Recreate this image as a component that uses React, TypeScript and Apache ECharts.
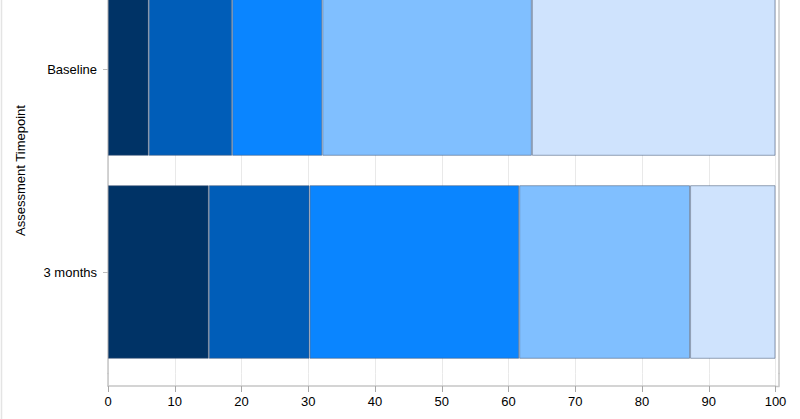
import React, { useEffect, useRef } from "react";
import * as echarts from "echarts";

// Categories (bottom to top on the y axis)
const categories = ["3 months", "Baseline"];
// Percent of subjects per response level, for [3 months, Baseline]
const level1 = [15.1, 6.1];
const level2 = [15.1, 12.5];
const level3 = [31.4, 13.5];
const level4 = [25.6, 31.4];
const level5 = [12.8, 36.5];
const levelNames = ["Level 1", "Level 2", "Level 3", "Level 4", "Level 5"];
const levelColors = ["#003366", "#005DB8", "#0A85FF", "#80BFFF", "#CFE3FD"];
const xTicks = { min: 0, max: 100, interval: 10 };
const axisTitle = "Assessment Timepoint";

const FONT = "'Liberation Sans', Arial, Helvetica, sans-serif";
const AXIS_COLOR = "#c6c6c6";
const GRID_COLOR = "#e9e9e9";
// The chart's top is cut off in the picture: the canvas extends above the window.
const OFF = 40;

export default function App() {
  const ref = useRef<HTMLDivElement>(null);

  useEffect(() => {
    if (!ref.current) return;
    const chart = echarts.init(ref.current, undefined, { renderer: "svg" });
    const levels = [level1, level2, level3, level4, level5];

    const option: any = {
      animation: false,
      backgroundColor: "#ffffff",
      textStyle: { fontFamily: FONT },
      grid: [
        { left: 108, right: 24.5, top: OFF - 32.5, bottom: 45.5, containLabel: false },
        { left: 108, right: 24.5, top: OFF + 373.5, bottom: 33, containLabel: false },
      ],
      xAxis: [
        {
          type: "value",
          gridIndex: 0,
          min: xTicks.min,
          max: xTicks.max,
          interval: xTicks.interval,
          axisLine: { show: false },
          axisTick: { show: false },
          axisLabel: { show: false },
          splitLine: { show: true, lineStyle: { color: GRID_COLOR, width: 1 } },
        },
        {
          type: "value",
          gridIndex: 1,
          min: xTicks.min,
          max: xTicks.max,
          interval: xTicks.interval,
          axisLine: { show: true, onZero: false, lineStyle: { color: AXIS_COLOR, width: 1.5 } },
          axisTick: { show: true, length: 6, lineStyle: { color: "#a8a8a8", width: 1 } },
          axisLabel: { show: true, color: "#000", fontSize: 13, fontFamily: FONT, margin: 9 },
          splitLine: { show: true, lineStyle: { color: GRID_COLOR, width: 1 } },
        },
      ],
      yAxis: [
        {
          type: "category",
          gridIndex: 0,
          data: categories,
          name: axisTitle,
          nameLocation: "middle",
          nameGap: 81,
          nameTextStyle: { color: "#000", fontSize: 13, fontFamily: FONT },
          axisLine: { show: true, onZero: false, lineStyle: { color: AXIS_COLOR, width: 1.5 } },
          axisTick: { show: true, alignWithLabel: true, length: 5, lineStyle: { color: "#bdbdbd" } },
          axisLabel: { color: "#000", fontSize: 13, fontFamily: FONT, margin: 11 },
          splitLine: { show: false },
        },
        {
          type: "value",
          gridIndex: 1,
          min: 0,
          max: 1,
          axisLine: { show: true, onZero: false, lineStyle: { color: AXIS_COLOR, width: 1.5 } },
          axisTick: { show: false },
          axisLabel: { show: false },
          splitLine: { show: false },
        },
        {
          type: "value",
          gridIndex: 0,
          position: "right",
          offset: 3.5,
          min: 0,
          max: 1,
          axisLine: { show: true, onZero: false, lineStyle: { color: AXIS_COLOR, width: 1.5 } },
          axisTick: { show: false },
          axisLabel: { show: false },
          splitLine: { show: false },
        },
        {
          type: "value",
          gridIndex: 1,
          position: "right",
          offset: 3.5,
          min: 0,
          max: 1,
          axisLine: { show: true, onZero: false, lineStyle: { color: AXIS_COLOR, width: 1.5 } },
          axisTick: { show: false },
          axisLabel: { show: false },
          splitLine: { show: false },
        },
      ],
      graphic: [
        {
          type: "line",
          silent: true,
          shape: { x1: 775, y1: OFF + 386.5, x2: 779.5, y2: OFF + 386.5 },
          style: { stroke: AXIS_COLOR, lineWidth: 1.5 },
        },
        {
          type: "line",
          silent: true,
          shape: { x1: 1.5, y1: 0, x2: 1.5, y2: OFF + 419 },
          style: { stroke: "#e4e4e4", lineWidth: 1.5 },
        },
      ],
      series: levels.map((vals, i) => ({
        type: "bar",
        name: levelNames[i],
        stack: "total",
        xAxisIndex: 0,
        yAxisIndex: 0,
        barCategoryGap: "14.5%",
        data: vals,
        itemStyle: {
          color: levelColors[i],
          borderColor: "rgba(70,90,120,0.55)",
          borderWidth: 1,
        },
        emphasis: { disabled: true },
      })),
    };

    chart.setOption(option);
    return () => chart.dispose();
  }, []);

  return (
    <div
      ref={ref}
      style={{ position: "absolute", left: 0, top: -OFF, width: 800, height: 419 + OFF }}
    />
  );
}
